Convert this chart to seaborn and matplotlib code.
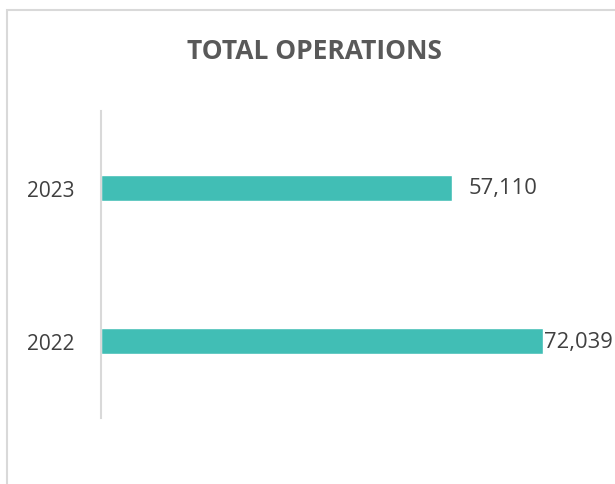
import matplotlib.pyplot as plt
import seaborn as sns
import pandas as pd
from matplotlib.patches import Rectangle

years = ["2023", "2022"]
operations = [57110, 72039]
value_labels = ["57,110", "72,039"]

sns.set_style("white")
plt.rcParams["font.family"] = ["Open Sans", "DejaVu Sans"]

df = pd.DataFrame({"year": years, "operations": operations})

fig = plt.figure(figsize=(6.15, 4.85), dpi=100)
# axes box in pixels: x 101..592, y 112..419 (from top)
W, H = 615, 485
ax = fig.add_axes([101 / W, 1 - 419 / H, (592 - 101) / W, (419 - 112) / H])

sns.barplot(data=df, y="year", x="operations", color="#41BEB5", width=0.172,
            saturation=1, ax=ax, order=years)

ax.set_xlim(0, 80000)
ax.set_ylim(1.5, -0.5)
ax.set_xlabel("")
ax.set_ylabel("")
ax.set_xticks([])
ax.tick_params(axis="y", length=0, pad=19, labelsize=15, labelcolor="#404040")
for side in ["top", "right", "bottom"]:
    ax.spines[side].set_visible(False)
ax.spines["left"].set_color("#D9D9D9")
ax.spines["left"].set_linewidth(1.5)

offsets = [2700, 100]
for i, (v, lab) in enumerate(zip(operations, value_labels)):
    ax.text(v + offsets[i], i, lab, va="center", ha="left", fontsize=15.8, color="#404040")

fig.text(314 / W, 1 - 52 / H, "TOTAL OPERATIONS", ha="center", va="center",
         fontsize=19, fontweight="bold", color="#595959")

# chart border (cut off at right and bottom)
fig.patches.append(Rectangle((6.5 / W, -0.1), 1.2, 1.1 - 10.5 / H, transform=fig.transFigure,
                             fill=False, edgecolor="#D9D9D9", linewidth=1.5))

fig.savefig("out.png", dpi=100)
